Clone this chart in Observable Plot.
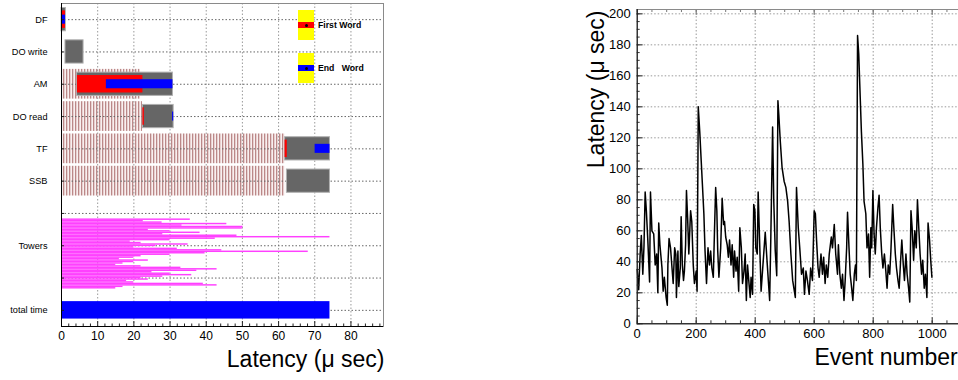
<!DOCTYPE html>
<html><head><meta charset="utf-8">
<script src="https://cdn.jsdelivr.net/npm/d3@7"></script>
<script src="https://cdn.jsdelivr.net/npm/@observablehq/plot@0.6"></script>
<style>
html,body{margin:0;padding:0;background:#fff;overflow:hidden;width:958px;height:380px;}
#wrap{position:relative;width:958px;height:380px;overflow:hidden;font-family:"Liberation Sans",Arial,Helvetica,sans-serif;}
#left,#right{position:absolute;top:0;}
#left{left:0;width:395px;} #right{left:560px;width:420px;}
#left svg,#right svg{max-width:none !important;}
.legbox{position:absolute;background:#ffff00;width:16px;height:30px;}
.legband{position:absolute;left:0;width:16px;height:6px;top:12px;}
.legdot{position:absolute;left:6.5px;top:13.5px;width:3px;height:3px;background:#000;border-radius:50%;}
.legtxt{position:absolute;font-weight:bold;font-size:8.7px;white-space:pre;color:#000;line-height:10px;}
</style></head><body>
<div id="wrap"><div id="left"></div><div id="right"></div>
<div class="legbox" style="left:298px;top:10px"><div class="legband" style="background:#ff0000"></div><div class="legdot"></div></div>
<div class="legtxt" style="left:318px;top:20px">First Word</div>
<div class="legbox" style="left:298px;top:53px"><div class="legband" style="background:#0000ff"></div><div class="legdot"></div></div>
<div class="legtxt" style="left:318px;top:63px">End   Word</div>
</div>
<script>
// ---------- Left panel data ----------
const rowLabels = ["DF", "DO write", "AM", "DO read", "TF", "SSB", "", "Towers", "", "total time"];
const stageRows = [0, 1, 2, 3, 4, 5];
const waitEnd = [0, 0, 21.8, 22.4, 61.8, 61.8];
const busyStart = [0, 1.1, 4.3, 22.5, 61.8, 62.3];
const busyEnd = [1.2, 6.1, 30.8, 31.0, 74.2, 74.2];
const firstWordStart = [0.1, null, 4.4, 22.5, 61.8, null];
const firstWordEnd = [1.1, null, 22.5, 22.9, 62.4, null];
const endWordStart = [0.1, null, 12.4, 30.7, 70.1, null];
const endWordEnd = [1.1, null, 30.8, 31.0, 74.2, null];
const totalTime = 74.2;
const towerEnds = [35.6, 22.6, 27.8, 45.7, 33.3, 50.2, 50.0, 24, 30, 38.3, 28, 48.5, 74.2, 42.5, 30, 19,
  22, 35, 26, 20, 32, 44.3, 68.2, 39.7, 30, 22, 20, 16, 24, 20, 17, 15,
  22, 33, 43, 37.4, 25, 30, 36, 28, 22, 24, 18, 20, 39.2, 43, 17, 15];
const xTicksL = [0, 10, 20, 30, 40, 50, 60, 70, 80];

// ---------- Right panel data ----------
const eventNumber = [0,5,10,14,19,23,27,31,36,42,45,50,56,61,66,70,73,77,84,88,92,98,102,104,108,113,118,122,127,131,133,138,141,146,149,153,157,160,164,167,171,175,181,185,190,194,200,203,207,212,217,221,226,230,235,240,245,249,253,258,262,266,270,273,277,283,288,293,296,300,305,309,313,318,322,327,330,335,339,344,348,353,357,362,366,370,374,379,383,386,391,395,399,402,407,410,420,434,441,449,453,459,463,468,473,477,480,485,491,498,504,510,515,521,527,536,540,546,551,557,563,567,572,577,583,588,594,600,604,608,613,617,623,628,632,637,641,646,651,658,662,668,673,679,682,687,692,696,701,705,710,713,718,722,727,731,736,740,743,747,751,756,760,765,769,775,779,784,788,792,795,799,803,807,811,816,820,824,829,833,838,842,847,851,856,860,866,870,875,879,884,888,893,897,902,906,911,915,920,924,928,932,937,941,946,950,955,959,964,968,973,977,982,986,991,995,999];
const latency = [35,22,45,57,32,50,85,73,54,27,85,60,58,38,45,20,65,51,36,21,30,17,12,38,55,49,36,26,49,45,17,47,24,36,69,38,28,34,51,86,68,45,73,66,38,26,34,21,140,124,105,90,71,47,26,49,38,47,36,30,60,88,73,47,30,49,81,64,66,56,51,43,54,38,51,30,47,34,43,21,62,49,26,34,45,15,38,26,17,30,19,77,73,49,45,85,21,59,38,15,56,127,79,47,31,144,135,118,101,92,88,79,66,45,28,17,88,62,49,32,36,19,34,28,19,36,28,73,71,54,36,30,45,32,43,26,38,30,45,56,49,64,45,32,51,32,23,32,15,28,49,72,49,32,23,15,32,38,28,186,174,146,124,103,79,71,49,58,30,62,49,86,58,45,62,75,83,62,45,36,45,36,23,38,32,47,77,62,45,36,28,23,41,54,38,28,45,32,23,14,73,62,41,60,49,80,60,45,32,41,23,32,17,65,54,41,30];
const xTicksR = [0, 200, 400, 600, 800, 1000];
const yTicksR = [0, 20, 40, 60, 80, 100, 120, 140, 160, 180, 200];

const FONT = '"Liberation Sans", Arial, Helvetica, sans-serif';
const STRIPE_KEY = "#d4b0b1";

// ---------- Left plot ----------
{
  const W = 395, H = 380, ML = 61, MR = 12, MT = 3, MB = 54;
  const fW = W - ML - MR, fH = H - MT - MB;
  const towerTop = 6.17, towerBottom = 8.34;
  const step = (towerBottom - towerTop) / towerEnds.length;
  const towers = towerEnds.map((v, i) => ({v, y1: towerTop + i * step, y2: towerTop + (i + 1) * step}));
  const fw = stageRows.filter(i => firstWordStart[i] != null);
  const ew = stageRows.filter(i => endWordStart[i] != null);
  const rows = d3.range(rowLabels.length);
  const minorX = d3.range(0, 89, 2).filter(v => v % 10 !== 0);
  const plot = Plot.plot({
    width: W, height: H, marginLeft: ML, marginRight: MR, marginTop: MT, marginBottom: MB,
    style: {fontFamily: FONT, background: "transparent", overflow: "visible"},
    x: {domain: [0, 89], axis: null},
    y: {domain: [9.5, -0.5], axis: null},
    marks: [
      Plot.rect(stageRows.filter(i => waitEnd[i] > 0), {x1: 0, x2: i => waitEnd[i], y1: i => i - 0.46, y2: i => i + 0.46, fill: STRIPE_KEY}),
      Plot.ruleX(xTicksL.slice(1), {stroke: "#9a9a9a", strokeDasharray: "1.5,2"}),
      Plot.ruleY(rows, {stroke: "#666", strokeDasharray: "1.5,2"}),
      Plot.rect(stageRows.filter(i => busyEnd[i] > busyStart[i]), {x1: i => busyStart[i], x2: i => busyEnd[i], y1: i => i - 0.36, y2: i => i + 0.36, fill: "#666666", stroke: "#b0b0b0", strokeWidth: 1}),
      Plot.rect(fw, {x1: i => firstWordStart[i], x2: i => firstWordEnd[i], y1: i => i - 0.27, y2: i => i + 0.27, fill: "#ff0000"}),
      Plot.rect(ew, {x1: i => endWordStart[i], x2: i => endWordEnd[i], y1: i => i - 0.14, y2: i => i + 0.14, fill: "#0000ff"}),
      Plot.rect(towers, {x1: 0, x2: "v", y1: "y1", y2: "y2", fill: "#ff40ff"}),
      Plot.rect([totalTime], {x1: 0, x2: d => d, y1: 9 - 0.27, y2: 9 + 0.27, fill: "#0000ff"}),
      Plot.ruleY(rows, {stroke: "#222", insetRight: fW - 3}),
      Plot.ruleX(xTicksL, {stroke: "#222", insetTop: fH - 5}),
      Plot.ruleX(minorX, {stroke: "#222", insetTop: fH - 2.5}),
      Plot.frame({stroke: "#8a8a8a", strokeWidth: 1}),
      Plot.ruleX([0], {stroke: "#000"}),
      Plot.ruleY([9.5], {stroke: "#000"}),
      Plot.text(rows, {y: d => d, text: d => rowLabels[d], frameAnchor: "left", dx: -14, textAnchor: "end", fontSize: 9.2, fill: "#000"}),
      Plot.text(xTicksL, {x: d => d, text: d => String(d), frameAnchor: "bottom", dy: 13, fontSize: 12, fill: "#000"}),
      Plot.text(["Latency (\u03bc sec)"], {frameAnchor: "bottom-right", dy: 40, dx: 1, textAnchor: "end", fontSize: 23, fill: "#000"})
    ]
  });
  const defs = document.createElementNS("http://www.w3.org/2000/svg", "defs");
  defs.innerHTML = '<pattern id="stripes" width="3" height="10" patternUnits="userSpaceOnUse"><rect x="0" y="0" width="1.3" height="10" fill="#bb8888"/><rect x="1.3" y="0" width="1" height="10" fill="#e6cccc"/></pattern>';
  plot.insertBefore(defs, plot.firstChild);
  plot.querySelectorAll('[fill="' + STRIPE_KEY + '"]').forEach(el => el.setAttribute("fill", "url(#stripes)"));
  document.getElementById("left").appendChild(plot);
}

// ---------- Right plot ----------
{
  const W = 420, H = 380, ML = 76.7, MR = 18.8, MT = 9, MB = 56.7;
  const fW = W - ML - MR, fH = H - MT - MB;
  const data = eventNumber.map((e, i) => ({e, v: latency[i]}));
  const minorXR = d3.range(0, 1101, 50);
  const minorYR = d3.range(0, 201, 5);
  const plot = Plot.plot({
    width: W, height: H, marginLeft: ML, marginRight: MR, marginTop: MT, marginBottom: MB,
    style: {fontFamily: FONT, background: "transparent", overflow: "visible", maxWidth: "none"},
    x: {domain: [0, 1100], axis: null},
    y: {domain: [0, 202.8], axis: null},
    marks: [
      Plot.ruleX(xTicksR.slice(1), {stroke: "#9a9a9a", strokeDasharray: "1.5,2"}),
      Plot.ruleY(yTicksR.slice(1), {stroke: "#9a9a9a", strokeDasharray: "1.5,2"}),
      Plot.line(data, {x: "e", y: "v", stroke: "#000", strokeWidth: 1.5}),
      Plot.ruleX(minorXR, {stroke: "#333", insetTop: fH - 3}),
      Plot.ruleX(xTicksR, {stroke: "#333", insetTop: fH - 6}),
      Plot.ruleX(minorXR, {stroke: "#777", insetBottom: fH - 3}),
      Plot.ruleX(xTicksR, {stroke: "#777", insetBottom: fH - 6}),
      Plot.ruleY(minorYR, {stroke: "#333", insetRight: fW - 3}),
      Plot.ruleY(yTicksR, {stroke: "#333", insetRight: fW - 6}),
      Plot.frame({stroke: "#8a8a8a"}),
      Plot.ruleX([0], {stroke: "#000"}),
      Plot.ruleY([0], {stroke: "#000"}),
      Plot.text(yTicksR, {y: d => d, text: d => String(d), frameAnchor: "left", dx: -6.5, textAnchor: "end", fontSize: 13, fill: "#000"}),
      Plot.text(xTicksR, {x: d => d, text: d => String(d), frameAnchor: "bottom", dy: 14, fontSize: 13, fill: "#000"}),
      Plot.text(["Latency (\u03bc sec)"], {frameAnchor: "top-left", dx: -50, dy: 1, rotate: -90, textAnchor: "end", fontSize: 23, fill: "#000"}),
      Plot.text(["Event number"], {frameAnchor: "bottom-right", dx: -4, dy: 41, textAnchor: "end", fontSize: 23, fill: "#000"})
    ]
  });
  document.getElementById("right").appendChild(plot);
}
</script></body></html>
